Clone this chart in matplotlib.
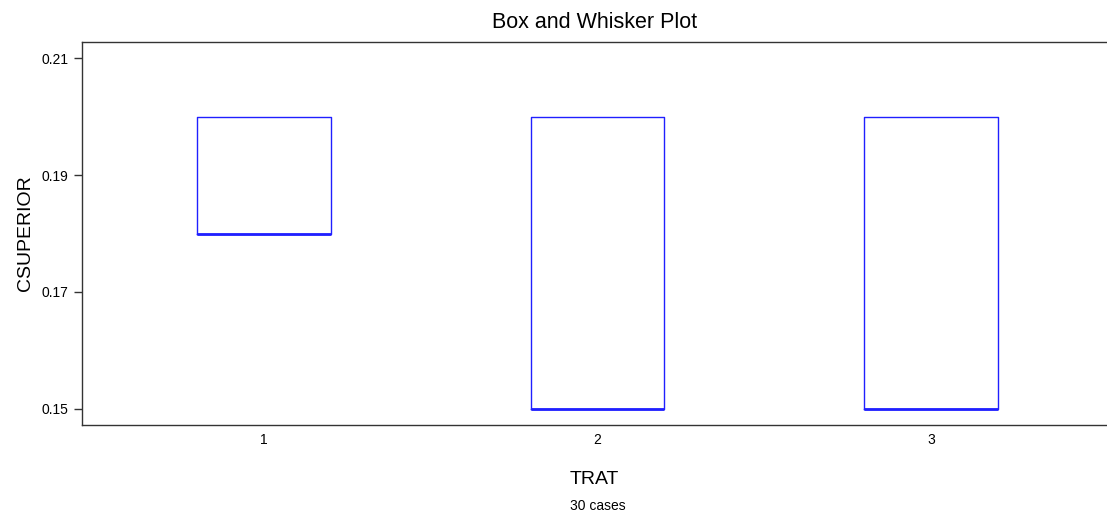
import matplotlib
matplotlib.use("Agg")
import matplotlib.pyplot as plt

plt.rcParams['font.family'] = ['Liberation Sans', 'DejaVu Sans']

# Summary statistics per treatment group
groups = ["1", "2", "3"]
q1 = [0.18, 0.15, 0.15]
medians = [0.18, 0.15, 0.15]
q3 = [0.20, 0.20, 0.20]
whisker_lo = [0.18, 0.15, 0.15]
whisker_hi = [0.20, 0.20, 0.20]
yticks = [0.15, 0.17, 0.19, 0.21]
n_cases = 30

stats = []
for i, g in enumerate(groups):
    stats.append(dict(label=g, q1=q1[i], med=medians[i], q3=q3[i],
                      whislo=whisker_lo[i], whishi=whisker_hi[i], fliers=[]))

fig = plt.figure(figsize=(11.07, 5.16), dpi=100)
ax = fig.add_axes([82 / 1107, 1 - 425 / 516, 1 - 82 / 1107, (425 - 42) / 516])

blue = "#2020ff"
ax.bxp(stats, positions=[1, 2, 3], widths=0.4, showcaps=False,
       boxprops=dict(color=blue, linewidth=1.0),
       medianprops=dict(color=blue, linewidth=2.0),
       whiskerprops=dict(color=blue, linewidth=1.0))

ax.set_xlim(0.454, 3.528)
ax.set_ylim(0.14726, 0.21274)
ax.set_yticks(yticks)
ax.set_yticklabels([f"{v:.2f}" for v in yticks])
ax.set_xticks([1, 2, 3])
ax.set_xticklabels(groups)

ax.spines['right'].set_visible(False)
for s in ['left', 'top', 'bottom']:
    ax.spines[s].set_color("#333333")
    ax.spines[s].set_linewidth(1.0)

ax.tick_params(axis='y', length=6, width=1, color="#333333", labelsize=10, pad=4)
ax.tick_params(axis='x', length=0, labelsize=10, pad=6)

ax.set_ylabel("CSUPERIOR", fontsize=14, labelpad=5)
ax.set_xlabel("TRAT", fontsize=14, labelpad=17)
ax.set_title("Box and Whisker Plot", fontsize=15.5, pad=10)
fig.text(598 / 1107, 1 - 506 / 516, f"{n_cases} cases", ha='center', va='center', fontsize=10)

fig.savefig("out.png", dpi=100)
